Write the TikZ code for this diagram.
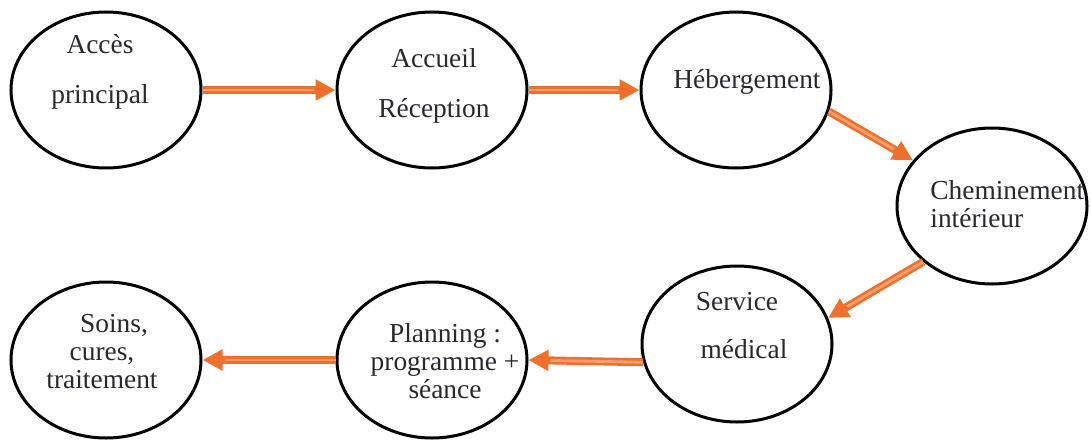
\documentclass[tikz,border=0pt]{standalone}
\usepackage{fontspec}
\setmainfont{Liberation Serif}
\usetikzlibrary{shapes.geometric,arrows.meta}

\definecolor{flechefonce}{RGB}{238,112,44}
\definecolor{flecheclair}{RGB}{246,160,110}
\definecolor{encre}{RGB}{40,40,48}

\tikzset{
  etape/.style={ellipse, draw=black, line width=1.5pt, minimum width=95pt, minimum height=78pt, inner sep=0pt},
  legende/.style={font=\fontsize{13.7}{14}\selectfont, text=encre, inner sep=0pt, align=center, anchor=base},
  fleche/.style={draw=flechefonce, line width=4pt, -{Triangle[length=10pt,width=10pt]},
    postaction={draw=flecheclair, line width=1.4pt, -, shorten >=11pt}}
}

\begin{document}
\begin{tikzpicture}[x=0.5pt, y=-0.5pt]

    \useasboundingbox (0,0) rectangle (1091,439);

    % ellipses
    \node [etape] (acces)    at (106, 90)  {};
    \node [etape] (accueil)  at (432, 90)  {};
    \node [etape] (heberg)   at (736, 90)  {};
    \node [etape] (chemin)   at (992, 206) {};
    \node [etape] (service)  at (737, 344) {};
    \node [etape] (planning) at (432, 360) {};
    \node [etape] (soins)    at (106, 360) {};

    % textes (ancre = ligne de base de la derniere ligne)
    \node [legende] (t-acces)    at (100, 103) {Accès\\[11pt]principal};
    \node [legende] (t-accueil)  at (434, 117) {Accueil\\[11pt]Réception};
    \node [legende] (t-heberg)   at (747, 88)  {Hébergement};
    \node [legende, align=left, anchor=base west] (t-chemin) at (930, 227) {Cheminement\\intérieur};
    \node [legende] (t-service)  at (737, 358) {Service\\[10pt]\hspace*{7pt}médical};
    \node [legende] (t-planning) at (445, 398) {Planning :\\programme +\\séance};
    \node [legende] (t-soins)    at (102, 388) {\hspace*{12pt}Soins,\\cures,\\traitement};

    % fleches
    \draw [fleche] (acces.east) -- (accueil.west);
    \draw [fleche] (accueil.east) -- (heberg.west);
    \draw [fleche] (heberg.-13) -- (chemin.150);
    \draw [fleche] (chemin.219) -- (service.16);
    \draw [fleche] (service.191) -- (planning.east);
    \draw [fleche] (planning.west) -- (soins.east);

\end{tikzpicture}
\end{document}
